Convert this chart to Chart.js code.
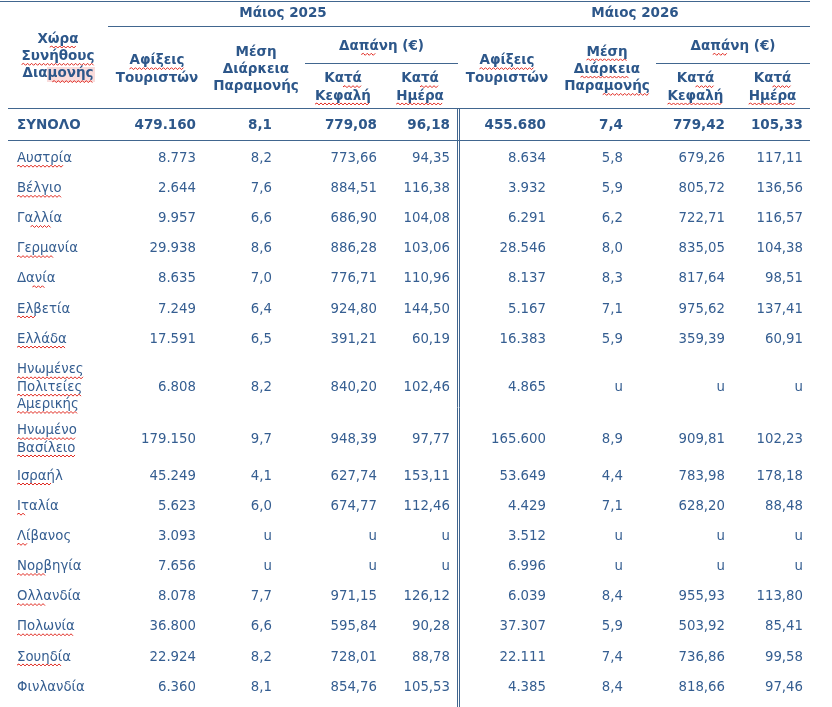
<!DOCTYPE html>
<html><head><meta charset="utf-8">
<script src="https://cdn.jsdelivr.net/npm/chart.js@4.4.1/dist/chart.umd.min.js"></script>
<style>html,body{margin:0;padding:0;background:#fff;overflow:hidden}canvas{display:block}</style>
</head><body>
<canvas id="c" width="832" height="707"></canvas>
<script>
// ---------- DATA ----------
const countries = ['ΣΥΝΟΛΟ','Αυστρία','Βέλγιο','Γαλλία','Γερμανία','Δανία','Ελβετία','Ελλάδα',
  ['Ηνωμένες','Πολιτείες','Αμερικής'],['Ηνωμένο','Βασίλειο'],'Ισραήλ','Ιταλία','Λίβανος','Νορβηγία',
  'Ολλανδία','Πολωνία','Σουηδία','Φινλανδία'];
const arrivals2025 = [479160,8773,2644,9957,29938,8635,7249,17591,6808,179150,45249,5623,3093,7656,8078,36800,22924,6360];
const stay2025 = [8.1,8.2,7.6,6.6,8.6,7.0,6.4,6.5,8.2,9.7,4.1,6.0,null,null,7.7,6.6,8.2,8.1];
const perCapita2025 = [779.08,773.66,884.51,686.90,886.28,776.71,924.80,391.21,840.20,948.39,627.74,674.77,null,null,971.15,595.84,728.01,854.76];
const perDay2025 = [96.18,94.35,116.38,104.08,103.06,110.96,144.50,60.19,102.46,97.77,153.11,112.46,null,null,126.12,90.28,88.78,105.53];
const arrivals2026 = [455680,8634,3932,6291,28546,8137,5167,16383,4865,165600,53649,4429,3512,6996,6039,37307,22111,4385];
const stay2026 = [7.4,5.8,5.9,6.2,8.0,8.3,7.1,5.9,null,8.9,4.4,7.1,null,null,8.4,5.9,7.4,8.4];
const perCapita2026 = [779.42,679.26,805.72,722.71,835.05,817.64,975.62,359.39,null,909.81,783.98,628.20,null,null,955.93,503.92,736.86,818.66];
const perDay2026 = [105.33,117.11,136.56,116.57,104.38,98.51,137.41,60.91,null,102.23,178.18,88.48,null,null,113.80,85.41,99.58,97.46];
const periods = ['Μάιος 2025','Μάιος 2026'];
const headerCountry = ['Χώρα','Συνήθους','Διαμονής'];
const headerArrivals = ['Αφίξεις','Τουριστών'];
const headerStay = ['Μέση','Διάρκεια','Παραμονής'];
const headerSpend = 'Δαπάνη (€)';
const headerPerCapita = ['Κατά','Κεφαλή'];
const headerPerDay = ['Κατά','Ημέρα'];
const missing = 'u';

// ---------- LAYOUT / STYLE ----------
const W = 832, H = 707;
const TEXT = '#355e91', BOLD = '#2d578a', LINE = '#41668f', RED = '#e0281f', PINK = '#f9dcdc';
const FONT_B = 'bold 13.5px "DejaVu Sans"', FONT_R = '13.3px "DejaVu Sans"';
const nameX = 17;
const colRight = [196,272,377,450,546,623,725,803];
const colCenter = [157,256,343,420,507,607,695.5,772.5];
const groupCenter = [283,635];
const spendCenter = [381.5,733];
const totalY = 125.5, rowStart = 140, rowStep = 30.15, extraLine = 15.5, lineGap = 17.3;

const columns = [arrivals2025, stay2025, perCapita2025, perDay2025, arrivals2026, stay2026, perCapita2026, perDay2026];
const decimals = [0,1,2,2,0,1,2,2];

function fmt(v, d) {
  if (v === null || v === undefined) return missing;
  if (d === 0) return String(v).replace(/\B(?=(\d{3})+(?!\d))/g, '.');
  return v.toFixed(d).replace('.', ',');
}
// row centres from line counts
const rowCenters = [];
{
  let top = rowStart;
  countries.forEach((c, i) => {
    if (i === 0) { rowCenters.push(totalY); return; }
    const n = Array.isArray(c) ? c.length : 1;
    const h = rowStep + (n - 1) * extraLine;
    rowCenters.push(top + h / 2 + 3.3 + (n - 1) * 1.2);
    top += h;
  });
}

const squiggle = {
  'Χώρα':[0.3,0.95],'Συνήθους':[0,1],'Διαμονής':[0.42,1],'Αφίξεις':[0,1],'Δαπάνη':[0.38,0.62],
  'Κατά':[0.5,1],'Κεφαλή':[0,1],'Ημέρα':[0,1],
  'Αυστρία':[0,0.85],'Βέλγιο':[0,1],'Γαλλία':[0.3,0.75],'Γερμανία':[0,0.6],'Δανία':[0.4,0.75],
  'Ελβετία':[0,0.35],'Ελλάδα':[0,1],'Ηνωμένες':[0,1],'Πολιτείες':[0,1],'Αμερικής':[0,1],
  'Ηνωμένο':[0,1],'Βασίλειο':[0,1],'Ισραήλ':[0,0.75],'Ιταλία':[0,0.2],'Λίβανος':[0,0.22],
  'Νορβηγία':[0,0.45],'Ολλανδία':[0,0.45],'Πολωνία':[0,1],'Σουηδία':[0,0.85]
};
const squiggleStay2026 = {'Μέση':[0,1],'Διάρκεια':[0.1,0.85],'Παραμονής':[0.45,1]};

const datasets = columns.map((col, c) => ({
  label: 'col' + c,
  data: col.map((v, i) => ({ x: colRight[c], y: rowCenters[i], v: fmt(v, decimals[c]) })),
  pointRadius: 0, pointHoverRadius: 0, showLine: false
}));

function wave(ctx, x0, x1, y) {
  ctx.save();
  ctx.strokeStyle = RED; ctx.lineWidth = 1;
  ctx.beginPath();
  let up = true;
  ctx.moveTo(x0, y);
  for (let x = x0 + 2; x <= x1 + 0.01; x += 2) { ctx.lineTo(x, up ? y - 1.2 : y + 0.8); up = !up; }
  ctx.stroke();
  ctx.restore();
}

const tablePlugin = {
  id: 'table',
  afterDatasetsDraw(chart) {
    const ctx = chart.ctx, xs = chart.scales.x, ys = chart.scales.y;
    const X = v => xs.getPixelForValue(v), Y = v => ys.getPixelForValue(v);
    ctx.save();

    function text(t, x, y, align, font, color, spans) {
      ctx.font = font; ctx.fillStyle = color; ctx.textAlign = align; ctx.textBaseline = 'middle';
      const w = ctx.measureText(t).width;
      const left = align === 'center' ? x - w / 2 : align === 'right' ? x - w : x;
      const key = t.split(' ')[0];
      const sp = spans && spans[key];
      if (sp) {
        const kw = ctx.measureText(key).width;
        wave(ctx, left + kw * sp[0], left + kw * sp[1], y + 8);
      }
      ctx.font = font; ctx.fillStyle = color; ctx.textAlign = align; ctx.textBaseline = 'middle';
      ctx.fillText(t, x, y);
    }
    function lines(arr, cx, cy, spans) {
      const n = arr.length;
      arr.forEach((t, k) => text(t, X(cx), Y(cy + (k - (n - 1) / 2) * lineGap), 'center', FONT_B, BOLD, spans));
    }

    // rules
    ctx.strokeStyle = LINE; ctx.lineWidth = 1;
    const hl = (x0, x1, y) => { ctx.beginPath(); ctx.moveTo(X(x0), Math.round(Y(y)) + 0.5); ctx.lineTo(X(x1), Math.round(Y(y)) + 0.5); ctx.stroke(); };
    const vl = (x, y0, y1) => { ctx.beginPath(); ctx.moveTo(Math.round(X(x)) + 0.5, Y(y0)); ctx.lineTo(Math.round(X(x)) + 0.5, Y(y1)); ctx.stroke(); };
    hl(0, 810, 1);
    hl(108, 810, 26);
    hl(305, 458, 62.5);
    hl(656, 810, 62.5);
    hl(8, 810, 108);
    hl(8, 810, 140);
    vl(456.5, 108, 707);
    vl(458.7, 108, 707);

    // pink highlight behind "μονής"
    ctx.fillStyle = PINK;
    ctx.fillRect(X(47), Y(67), X(95) - X(47), Y(82) - Y(67));

    // header
    lines(headerCountry, 58, 56.5, squiggle);
    periods.forEach((p, g) => text(p, X(groupCenter[g]), Y(13.5), 'center', FONT_B, BOLD));
    [0, 1].forEach(g => {
      const o = g * 4;
      lines(headerArrivals, colCenter[o], 69.5, squiggle);
      lines(headerStay, colCenter[o + 1], 69.3, g === 1 ? squiggleStay2026 : null);
      text(headerSpend, X(spendCenter[g]), Y(46.5), 'center', FONT_B, BOLD, squiggle);
      lines(headerPerCapita, colCenter[o + 2], 87.5, squiggle);
      lines(headerPerDay, colCenter[o + 3], 87.5, squiggle);
    });

    // country names
    countries.forEach((c, i) => {
      const arr = Array.isArray(c) ? c : [c];
      const n = arr.length;
      arr.forEach((t, k) => {
        const y = rowCenters[i] + (k - (n - 1) / 2) * lineGap;
        text(t, X(nameX), Y(y), 'left', i === 0 ? FONT_B : FONT_R, i === 0 ? BOLD : TEXT, squiggle);
      });
    });

    // cells from dataset elements
    chart.data.datasets.forEach((ds, d) => {
      const meta = chart.getDatasetMeta(d);
      meta.data.forEach((el, i) => {
        const bold = i === 0;
        text(ds.data[i].v, el.x, el.y, 'right', bold ? FONT_B : FONT_R, bold ? BOLD : TEXT);
      });
    });
    ctx.restore();
  }
};

new Chart(document.getElementById('c'), {
  type: 'scatter',
  data: { datasets },
  options: {
    responsive: false, animation: false, devicePixelRatio: 1,
    layout: { padding: 0 },
    events: [],
    plugins: { legend: { display: false }, tooltip: { enabled: false } },
    scales: {
      x: { type: 'linear', display: false, min: 0, max: W },
      y: { type: 'linear', display: false, min: 0, max: H, reverse: true }
    }
  },
  plugins: [tablePlugin]
});
</script>
</body></html>
